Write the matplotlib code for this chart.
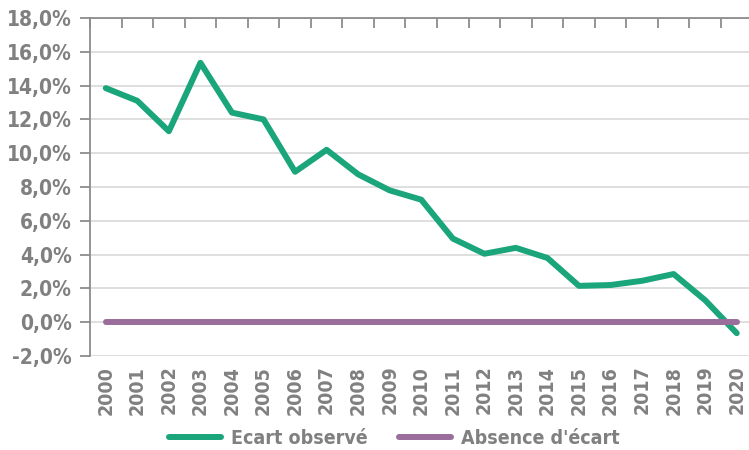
import matplotlib.pyplot as plt
from matplotlib.ticker import FuncFormatter, MultipleLocator
import numpy as np

plt.rcParams["font.family"] = ["DejaVu Sans"]
plt.rcParams["font.stretch"] = "condensed"
plt.rcParams["font.weight"] = "bold"

# Data
years = list(range(2000, 2021))
ecart_observe = [13.85, 13.1, 11.3, 15.35, 12.4, 12.0, 8.9, 10.2, 8.75, 7.8, 7.25,
                 4.95, 4.05, 4.4, 3.8, 2.15, 2.2, 2.45, 2.85, 1.3, -0.65]
absence_ecart = [0.0] * len(years)

green = '#1aa57a'
purple = '#9a6d9a'
text_grey = '#808080'

fig = plt.figure(figsize=(7.49, 4.5), dpi=100)
ax = fig.add_axes([90 / 749, 1 - 356 / 450, 662.5 / 749, 338 / 450])

ax.plot(years, ecart_observe, color=green, lw=4.3, solid_capstyle='round',
        solid_joinstyle='round', label='Ecart observé', zorder=3)
ax.plot(years, absence_ecart, color=purple, lw=4.3, solid_capstyle='round',
        label="Absence d'écart", zorder=4)

ax.set_xlim(1999.5, 2020.5)
ax.set_ylim(-2, 18)
ax.yaxis.set_major_locator(MultipleLocator(2))
ax.yaxis.set_major_formatter(FuncFormatter(lambda v, p: f"{v:.1f}%".replace('.', ',')))
ax.set_xticks(years)
ax.set_xticklabels([str(y) for y in years], rotation=90)
ax.set_xticks(np.arange(1999.5, 2020.6, 1), minor=True)

ax.grid(axis='y', color='#d9d9d9', lw=1.2, zorder=0)
ax.set_axisbelow(True)

for s in ['right', 'bottom']:
    ax.spines[s].set_visible(False)
for s in ['left', 'top']:
    ax.spines[s].set_color('#8c8c8c')
    ax.spines[s].set_linewidth(1.3)

ax.tick_params(axis='y', which='major', length=7, width=1.3, color='#8c8c8c',
               labelsize=15, labelcolor=text_grey, pad=6)
ax.tick_params(axis='x', which='major', length=0, labelsize=14,
               labelcolor=text_grey, pad=7)
ax.tick_params(axis='x', which='minor', bottom=False, top=True, direction='in',
               length=7, width=1.3, color='#8c8c8c')

leg = fig.legend(loc='lower center', bbox_to_anchor=(0.526, -0.035), ncol=2,
                 frameon=False, handlelength=2.7, columnspacing=1.6,
                 fontsize=14, handletextpad=0.5)
for t in leg.get_texts():
    t.set_color(text_grey)

fig.savefig('out.png', dpi=100)
